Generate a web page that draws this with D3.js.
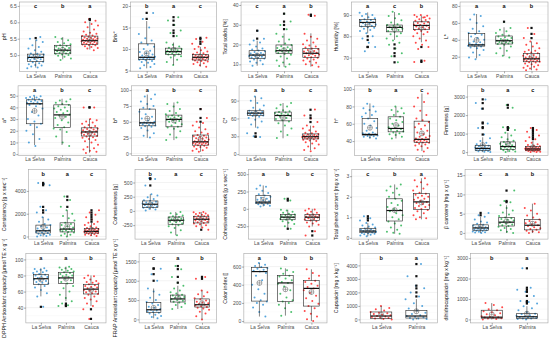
<!DOCTYPE html>
<html><head><meta charset="utf-8">
<script src="https://cdn.jsdelivr.net/npm/d3@7"></script>
<style>html,body{margin:0;padding:0;background:#fff;} svg{display:block;}</style>
</head><body><svg id="c" width="550" height="338"></svg>
<script>
const groups3 = ["La Selva", "Palmira", "Cauca"];
const groups2 = ["La Selva", "Palmira"];

const titles = [
  "pH", "Brix°", "Total solids [%]", "Humidity [%]", "L*",
  "a*", "b*", "C*", "h°", "Firmness [g]",
  "Consistency [g x sec⁻¹]", "Cohesiveness [g]", "Cohesiveness work [g x sec⁻¹]", "Total phenol content [mg x g⁻¹]", "β carotene [mg x g⁻¹]",
  "DPPH Antioxidant capacity [µmol TE x g⁻¹]", "FRAP Antioxidant capacity [µmol TE x g⁻¹]", "Color index []", "Capsaicin [mg x kg⁻¹]", "dihidrocapsaicin [mg x kg⁻¹]"
];

const letters = [
  ["c","b","a"], ["b","a","c"], ["c","a","b"], ["a","c","b"], ["a","a","b"],
  ["a","b","c"], ["a","b","c"], ["a","b","c"], ["b","a","c"], ["b","a","c"],
  ["b","a","c"], ["b","a","c"], ["a","b","c"], ["c","b","a"], ["c","a","b"],
  ["a","a","b"], ["c","a","b"], ["a","b","b"], ["b","a"], ["b","a"]
];

const yTicks = [
  [5.0,5.5,6.0,6.5], [5,10,15,20], [10,20,30,40], [70,80,90], [20,40,60,80],
  [0,10,20,30,40,50], [0,25,50,75,100], [0,30,60,90], [40,60,80,100], [0,1000,2000,3000],
  [0,2000,4000], [-250,0,250,500], [-250,0,250,500], [0,1,2,3], [0,5,10,15],
  [40,60,80,100], [0,500,1000,1500], [0,200,400,600], [0,1000,2000,3000,4000], [0,1000,2000,3000]
];

const yDomains = [
  [4.50,6.62], [4.77,20.93], [6.4,41.5], [63.5,96.1], [2.5,84.7],
  [-1,58.5], [-3,106.8], [-2,115], [23.6,103.8], [-173,3584],
  [-228,5870], [-495,727], [-436,566], [-0.06,3.32], [-1.6,16.45],
  [21,107.5], [-90,1707], [-20,745], [-260,4890], [-170,3230]
];

// [whisker low, Q1, median, Q3, whisker high, mean] per group
const boxStats = [
  [[4.62,4.8,4.93,5.03,5.45,4.95],[4.87,5.04,5.15,5.3,5.55,5.16],[5.17,5.33,5.44,5.58,6.02,5.47]],
  [[5.5,7.6,8.07,11.2,16.5,9.0],[6.3,8.77,9.4,10.2,11.5,9.8],[5.9,7.44,8.07,8.77,10.5,8.2]],
  [[9.3,13,14.7,16.9,22,14.5],[8.8,15.6,16.9,19.8,25.7,17.2],[8.8,13.5,15.6,18.1,25.7,16.3]],
  [[81.4,84.6,86.5,87.9,91.2,85.5],[78.3,82.1,84.2,85.3,91.4,83.5],[77.2,83.1,85.1,86.8,89.7,84]],
  [[18,32.5,34,47.5,70.5,39.8],[20.8,35,38.9,44.5,54.8,38],[4,14,17.5,24,38,19.5]],
  [[7.8,26,43.1,46.5,49.4,37],[7.8,22.7,33.6,42.2,47.4,32],[1.2,15.5,19,22.5,30,18]],
  [[24.6,43.6,48.3,70,93,55],[21,42,53.7,60.5,80.5,52],[2.5,13,18.3,29,48,23]],
  [[44.6,65,69,73,97,68],[26.6,56,65,70.8,86,61],[6.8,25.5,29.4,34,48,30]],
  [[43,46.9,47.7,66.2,83.5,55.4],[43,50.7,54.6,68,79.6,58.5],[28.5,38.5,42,63,95,48.9]],
  [[0,100,200,350,800,380],[0,150,300,550,1050,450],[0,100,170,300,600,260]],
  [[0,300,500,1000,1700,850],[0,400,650,1200,2300,900],[50,300,450,700,1200,600]],
  [[25,60,118,176,294,110],[-428,-234,-164,-106,-18,-150],[-292,-211,-146,-93,-18,-140]],
  [[35,74,97,193,338,130],[-287,-157,-120,-81,-13,-110],[-254,-167,-120,-81,0,-125]],
  [[0.08,0.25,0.33,0.45,0.72,0.37],[0.2,0.82,1.33,1.9,2.6,1.35],[0.9,1.38,1.75,2.15,2.9,1.72]],
  [[0,0.7,1.3,2.1,4.2,1.6],[0,1.8,2.8,4.0,7.2,3.0],[0,0.8,2.0,3.5,7.6,2.4]],
  [[54,69,76,81,89,75],[48,70,77,84,91,76],[42,57,63,69,80,62]],
  [[30,180,250,440,800,300],[270,450,530,630,870,570],[0,320,380,530,750,420]],
  [[50,220,545,590,640,420],[60,215,420,500,580,350],[0,165,360,445,570,320]],
  [[0,80,250,550,1000,330],[0,100,250,650,1500,600]],
  [[0,60,110,450,800,250],[0,50,130,280,650,280]]
];

const outliers = [
  [[5.52],[],[6.07,6.1]],
  [[17,18.4],[13,13.7,14.3,15.6,16.6,17.4],[11.2,11.7,12.3,12.6]],
  [[23,27],[27.8,29.9,31.6,35.6],[34.5,35.1]],
  [[80,78.3,75,75],[76.2,74.3,72.1,70.7,67.8],[75,68.6,68]],
  [[],[61.4],[42,47,54]],
  [[],[],[40,40]],
  [[],[],[50,56,70]],
  [[35,29.4,29.4],[],[54,60.6,65,74.7]],
  [[],[],[]],
  [[950,1300,1350,1550,1600,2350,2650,2850],[1200,1300,1350,2400,2550],[700,800,900,1000,1100,1200,1300]],
  [[2100,2300,2600,4500,4600,4700],[2600,3200,3500],[1300,1500,1700,1900,2100,2300]],
  [[448,560,575],[],[-330]],
  [[],[120,145,-287],[-322,-384]],
  [[0.85,0.95,1.05],[],[]],
  [[4.6,5.2],[8.0,8.3,11],[]],
  [[41],[42,43,45],[38,26]],
  [[1000,1170,1310,1320],[950,1100,1300,1380],[1050,1100]],
  [[],[],[]],
  [[],[1700,2000,2300,2500,3200,4100]],
  [[],[780,850,900,1150,1350,1450,1550,2500]]
];

const points = [
  [[4.6,4.62,4.65,4.68,4.7,4.72,4.75,4.78,4.8,4.82,4.85,4.87,4.88,4.9,4.92,4.93,4.94,4.95,4.97,4.98,5.0,5.02,5.04,5.05,5.1,5.15,5.2,5.25,5.3,5.4,5.45,5.5,5.55],
   [4.85,4.9,4.95,4.98,5.0,5.02,5.04,5.05,5.07,5.08,5.1,5.12,5.13,5.15,5.16,5.18,5.2,5.22,5.24,5.26,5.28,5.3,5.33,5.36,5.4,5.45,5.5,5.55],
   [5.15,5.2,5.22,5.25,5.27,5.3,5.31,5.32,5.33,5.35,5.36,5.37,5.38,5.4,5.41,5.42,5.43,5.44,5.45,5.46,5.47,5.48,5.5,5.51,5.52,5.54,5.55,5.57,5.58,5.6,5.62,5.65,5.68,5.72,5.78,5.85,5.9,5.95,6.0,6.05,6.1]],
  [[5.5,5.8,6.2,6.5,6.8,7.0,7.2,7.4,7.5,7.6,7.7,7.8,7.9,8.0,8.0,8.1,8.2,8.3,8.5,8.7,9.0,9.3,9.6,10,10.5,11,11.5,12,12.5,13.5,15,17,18.4],
   [6.3,7,7.5,8,8.3,8.5,8.7,8.8,9,9.1,9.2,9.3,9.4,9.5,9.6,9.7,9.8,10,10.1,10.3,10.6,11,11.5,13,13.7,14.3,15.6,16.6,17.4],
   [5.9,6.2,6.5,6.7,6.9,7.1,7.2,7.3,7.4,7.5,7.6,7.7,7.8,7.9,8.0,8.0,8.1,8.2,8.3,8.4,8.5,8.6,8.7,8.8,9,9.2,9.4,9.7,10,10.3,10.5,11.2,11.7,12.3,12.6]],
  [[9.3,10,10.8,11.5,12,12.5,13,13.2,13.5,13.8,14,14.2,14.5,14.7,15,15.2,15.5,15.8,16.2,16.6,17,17.5,18,19,20,21,22,23,27],
   [8.8,9.2,10,11,12,13,14,14.8,15.3,15.8,16.2,16.5,16.8,17,17.3,17.6,18,18.3,18.7,19.2,19.8,20.5,21.5,22.5,24,25.5,27.8,29.9,31.6,35.6],
   [8.8,9.5,10,10.8,11.5,12,12.5,13,13.3,13.6,14,14.3,14.6,15,15.3,15.6,15.9,16.2,16.5,16.8,17.2,17.6,18,18.5,19,19.5,20.2,21,22,23,24,25.5,34.5,35.1]],
  [[73,75,77,79,80,81.5,82.5,83,83.5,84,84.3,84.6,85,85.3,85.6,86,86.3,86.6,87,87.3,87.6,88,88.5,89,89.5,90,90.5,91],
   [67.8,70.7,72.1,74.3,76,77,78,79,80,81,81.5,82,82.5,83,83.3,83.6,84,84.3,84.6,85,85.3,85.7,86.5,87.5,88.5,89.5,90.5,91.5],
   [68,68.6,74,75,76,77,78,79,80,81,81.5,82,82.5,83,83.3,83.6,84,84.3,84.6,85,85.3,85.6,86,86.3,86.6,87,87.3,87.6,88,88.4,88.8,89.2,89.6,90,90,89]],
  [[17,19,22,25,28,30,31,32,32.5,33,33.5,34,34.5,35,36,37,38,40,42,44,46,47,48,50,53,56,60,64,68,70],
   [19,21,24,27,30,32,34,35,35.5,36,36.5,37,37.5,38,38.5,39,40,41,42,43,44,45,46,48,50,52,54,61],
   [4,5,6,7,8,9,10,11,12,13,13.5,14,14.5,15,15.5,16,16.5,17,17.5,18,18.5,19,19.5,20,21,22,23,24,25,26,27,28,30,32,34,36,38,42,47,54]],
  [[7,10,13,17,20,23,25,26,28,30,33,36,39,41,42,43,43.5,44,44.5,45,45.5,46,46.5,47,47.5,48,48.5,49,49.5,50],
   [7,10,15,19,21,22,23,25,27,29,31,32,33,34,35,36,37,38,39,40,41,42,43,44,45,46,47],
   [1,2,3,4,5,6,8,10,11,12,13,14,14.5,15,15.5,16,16.5,17,17.5,18,18.5,19,19.5,20,20.5,21,21.5,22,22.5,23,24,25,26,27,28,29,30,40,40]],
  [[25,28,32,36,40,42,43,44,45,46,47,47.5,48,48.5,49,50,52,55,58,62,66,70,72,75,78,82,86,90,93],
   [21,25,30,35,39,41,42,44,46,48,50,51,52,53,54,55,56,57,58,59,60,62,64,67,70,74,78,80.5],
   [2.5,4,5,7,9,10,11,12,13,14,14.5,15,15.5,16,16.5,17,17.5,18,18.5,19,20,21,22,23,24,25,26,27,28,29,31,33,35,38,41,44,48,50,56,70]],
  [[29,30,35,45,50,55,58,61,63,64,65,66,67,67.5,68,68.5,69,70,71,72,73,75,78,82,86,90,94,97],
   [27,32,38,43,48,52,55,57,59,61,63,64,65,66,67,68,69,70,71,72,74,77,80,83,86],
   [5,7,10,13,16,18,20,22,23,24,25,26,26.5,27,27.5,28,28.5,29,29.5,30,30.5,31,31.5,32,33,34,35,36,38,40,43,46,48,54,60,65,75]],
  [[43,44,45,45.5,46,46.5,47,47.5,48,48.5,49,50,52,55,58,60,63,66,68,70,72,74,76,78,80,83],
   [43,45,47,48,49,50,51,52,53,54,55,56,58,60,62,64,66,68,70,72,74,76,78,80],
   [28,30,32,34,35,36,37,38,38.5,39,39.5,40,40.5,41,41.5,42,42.5,43,44,45,46,48,50,52,54,56,58,60,62,64,66,70,75,80,85,90,95]],
  [[0,20,40,60,80,100,110,130,150,170,190,200,220,250,280,310,340,380,430,500,600,750,950,1300,1550,2350,2650,2850],
   [0,30,60,100,130,160,190,220,250,280,300,330,370,410,450,500,550,620,700,800,900,1050,1200,1300,1350,2400,2550],
   [0,10,25,40,55,70,85,100,110,120,130,140,150,160,170,180,190,200,215,230,250,270,290,310,340,380,430,500,600,700,800,900,1000,1100,1200,1300]],
  [[0,50,100,150,200,250,300,350,400,450,500,550,600,700,800,900,1000,1100,1300,1500,1700,2100,2300,2600,4500,4600,4700],
   [0,80,150,250,350,400,450,500,550,600,650,700,800,900,1000,1100,1200,1400,1600,1800,2000,2300,2600,3200,3500],
   [50,100,150,200,250,280,300,330,360,390,420,450,480,510,540,570,600,630,660,700,750,800,900,1000,1100,1200,1300,1500,1700,1900,2100,2300]],
  [[10,25,40,55,60,70,80,90,100,110,120,130,140,150,160,175,190,210,240,270,294,448,560,575],
   [-428,-380,-340,-300,-270,-250,-234,-220,-200,-190,-180,-170,-164,-155,-145,-135,-125,-115,-106,-95,-80,-60,-40,-18],
   [-330,-292,-270,-250,-235,-220,-211,-200,-190,-180,-170,-160,-150,-146,-140,-130,-120,-110,-100,-93,-85,-75,-65,-55,-45,-35,-25,-18]],
  [[35,45,55,65,74,80,88,95,100,110,120,130,145,160,175,193,210,230,260,290,320,338],
   [-287,-250,-220,-200,-180,-165,-157,-145,-135,-125,-120,-112,-105,-95,-88,-81,-70,-55,-40,-25,-13,120,145],
   [-384,-322,-254,-230,-210,-195,-180,-167,-155,-145,-135,-125,-120,-115,-105,-95,-88,-81,-70,-55,-40,-25,-10,0]],
  [[0.08,0.12,0.15,0.18,0.2,0.22,0.24,0.26,0.28,0.3,0.32,0.33,0.35,0.37,0.4,0.42,0.45,0.5,0.55,0.6,0.65,0.72,0.85,0.95,1.05],
   [0.2,0.25,0.3,0.4,0.5,0.6,0.7,0.8,0.9,1.0,1.1,1.2,1.3,1.35,1.4,1.5,1.6,1.7,1.8,1.9,2.0,2.1,2.2,2.3,2.4,2.5,2.6],
   [0.9,0.95,1.0,1.1,1.2,1.3,1.35,1.4,1.45,1.5,1.55,1.6,1.65,1.7,1.75,1.8,1.85,1.9,1.95,2.0,2.05,2.1,2.15,2.2,2.3,2.4,2.5,2.6,2.7,2.8,2.9]],
  [[0,0.1,0.2,0.3,0.4,0.5,0.6,0.7,0.8,0.9,1.0,1.1,1.2,1.3,1.4,1.5,1.7,1.9,2.1,2.4,2.7,3.0,3.5,4.2,4.6,5.2],
   [0,0.3,0.7,1.0,1.3,1.6,1.8,2.0,2.2,2.4,2.6,2.8,3.0,3.2,3.4,3.6,3.8,4.0,4.4,4.8,5.3,5.8,6.5,7.2,8.0,8.3,11],
   [0,0.2,0.4,0.6,0.8,1.0,1.2,1.5,1.8,2.0,2.2,2.5,2.8,3.1,3.5,4.0,4.5,5.0,5.8,6.5,7.6]],
  [[41,54,58,62,65,67,69,70,71,72,73,74,75,76,77,78,79,80,81,82,83,84,85,86,87,88,89],
   [42,43,45,48,52,56,60,64,67,70,72,74,76,77,78,79,80,81,82,83,84,85,86,87,88,89,90,91],
   [26,38,42,45,48,50,52,54,56,57,58,59,60,61,62,63,64,65,66,67,68,69,70,71,72,73,75,77,79,80]],
  [[30,60,90,120,150,170,190,210,230,250,270,300,330,370,410,450,500,560,640,720,800,1000,1170,1310],
   [270,320,370,410,440,460,480,500,520,540,560,580,600,620,640,670,700,750,800,870,950,1100,1300,1380],
   [0,80,150,200,250,280,300,320,340,360,380,400,420,440,460,490,520,550,600,650,700,750,1050,1100]],
  [[50,100,150,180,200,215,230,260,300,350,400,450,500,530,545,555,565,575,585,595,605,620,640],
   [60,100,140,180,200,215,230,260,300,340,380,410,420,430,450,470,490,500,520,540,560,580],
   [0,20,50,80,110,140,165,190,220,250,280,310,340,360,375,390,410,430,445,470,500,530,570]],
  [[0,30,60,100,140,180,220,250,300,350,400,450,500,550,650,750,850,1000],
   [0,30,60,100,150,200,250,300,400,500,650,800,1000,1200,1500,1700,2000,2300,2500,3200,4100]],
  [[0,20,40,60,80,100,110,130,160,200,250,300,350,400,450,500,600,700,800],
   [0,20,40,50,70,90,110,130,150,180,210,250,280,350,450,550,650,780,850,900,1150,1350,1450,1550,2500]]
];

const colors3 = ["#2a8fd4", "#22b04b", "#ff1a1a"];
const colors2 = ["#ff1a1a", "#2a8fd4"];

const FONT = "'Liberation Sans', Arial, sans-serif";
const TICK_FS = 5.0, TITLE_FS = 5.3, LETTER_FS = 5.6;
const svg = d3.select("#c");
const cellW = 110.5, rowH = 83.8;
const measure = svg.append("text").attr("font-family", FONT).attr("font-size", TICK_FS);
function textW(s) { measure.text(s); return measure.node().getComputedTextLength(); }

titles.forEach((title, p) => {
  const r = Math.floor(p / 5), c = p % 5;
  const cellX = c * cellW, rowY = r * rowH;
  const ticks = yTicks[p];
  const isDec = ticks.some(t => !Number.isInteger(t));
  const fmt = t => isDec ? t.toFixed(1) : String(t);
  const labW = d3.max(ticks, t => textW(fmt(t)));
  const band = /⁻/.test(title) ? 15 : (/[\[°]/.test(title) ? 12 : 10);
  const x0 = cellX + band + labW + 2.5, x1 = 106 + c * cellW;
  const y0 = rowY + 2, y1 = rowY + 71.5;
  const stats = boxStats[p];
  const n = stats.length;
  const names = n === 3 ? groups3 : groups2;
  const cols = n === 3 ? colors3 : colors2;
  const x = d3.scaleLinear().domain([0.4, n + 0.6]).range([x0, x1]);
  const y = d3.scaleLinear().domain(yDomains[p]).range([y1, y0]);
  const unit = x(2) - x(1);
  const g = svg.append("g");

  // grid
  const step = ticks[1] - ticks[0];
  const minor = [ticks[0] - step / 2].concat(ticks.map(t => t + step / 2))
    .filter(v => v > yDomains[p][0] && v < yDomains[p][1]);
  g.selectAll(".mn").data(minor).enter().append("line")
    .attr("x1", x0).attr("x2", x1).attr("y1", d => y(d)).attr("y2", d => y(d))
    .attr("stroke", "#f2f2f2").attr("stroke-width", 0.35);
  g.selectAll(".mj").data(ticks).enter().append("line")
    .attr("x1", x0).attr("x2", x1).attr("y1", d => y(d)).attr("y2", d => y(d))
    .attr("stroke", "#e6e6e6").attr("stroke-width", 0.5);

  // jittered points
  stats.forEach((s, gi) => {
    const pts = points[p][gi];
    g.selectAll(null).data(pts).enter().append("circle")
      .attr("cx", (d, i) => x(gi + 1) + (((i * 0.6180339 + gi * 0.37 + p * 0.11) % 1) - 0.5) * unit * 0.62)
      .attr("cy", d => y(d))
      .attr("r", 1.0)
      .attr("fill", cols[gi]).attr("fill-opacity", 0.8);
  });

  // boxes
  const bw = unit * 0.6;
  stats.forEach((s, gi) => {
    const cx = x(gi + 1);
    const [lo, q1, med, q3, hi, mean] = s;
    g.append("line").attr("x1", cx).attr("x2", cx).attr("y1", y(lo)).attr("y2", y(q1))
      .attr("stroke", "#222").attr("stroke-width", 0.55);
    g.append("line").attr("x1", cx).attr("x2", cx).attr("y1", y(q3)).attr("y2", y(hi))
      .attr("stroke", "#222").attr("stroke-width", 0.55);
    g.append("rect").attr("x", cx - bw / 2).attr("width", bw)
      .attr("y", y(q3)).attr("height", y(q1) - y(q3))
      .attr("fill", "none").attr("stroke", "#222").attr("stroke-width", 0.6);
    g.append("line").attr("x1", cx - bw / 2).attr("x2", cx + bw / 2).attr("y1", y(med)).attr("y2", y(med))
      .attr("stroke", "#111").attr("stroke-width", 1.2);
    g.selectAll(null).data(outliers[p][gi]).enter().append("rect")
      .attr("x", cx - 1.1).attr("y", d => y(d) - 1.1).attr("width", 2.2).attr("height", 2.2)
      .attr("fill", "#111");
    const my = y(mean);
    g.append("circle").attr("cx", cx).attr("cy", my).attr("r", 2.5)
      .attr("fill", "none").attr("stroke", "#555").attr("stroke-width", 0.5);
    g.append("line").attr("x1", cx - 2.5).attr("x2", cx + 2.5).attr("y1", my).attr("y2", my)
      .attr("stroke", "#555").attr("stroke-width", 0.45);
    g.append("line").attr("x1", cx).attr("x2", cx).attr("y1", my - 2.5).attr("y2", my + 2.5)
      .attr("stroke", "#555").attr("stroke-width", 0.45);
    g.append("text").attr("x", cx).attr("y", y0 + 6.3)
      .attr("text-anchor", "middle").attr("font-family", FONT).attr("font-size", LETTER_FS)
      .attr("font-weight", "bold").attr("fill", "#111").text(letters[p][gi]);
  });

  // border
  g.append("rect").attr("x", x0).attr("y", y0).attr("width", x1 - x0).attr("height", y1 - y0)
    .attr("fill", "none").attr("stroke", "#a6a6a6").attr("stroke-width", 0.6);

  // axes
  const ya = g.append("g").attr("transform", `translate(${x0},0)`)
    .call(d3.axisLeft(y).tickValues(ticks).tickFormat(fmt).tickSize(1.8).tickPadding(0.8));
  const xa = g.append("g").attr("transform", `translate(0,${y1})`)
    .call(d3.axisBottom(x).tickValues(d3.range(1, n + 1)).tickFormat(i => names[i - 1]).tickSize(1.8).tickPadding(0.8));
  [ya, xa].forEach(a => {
    a.select(".domain").remove();
    a.selectAll(".tick line").attr("stroke", "#444").attr("stroke-width", 0.45);
    a.selectAll(".tick text").attr("font-family", FONT).attr("font-size", TICK_FS).attr("fill", "#4d4d4d");
  });

  // y title
  svg.append("text")
    .attr("transform", `translate(${cellX + 6},${(y0 + y1) / 2}) rotate(-90)`)
    .attr("text-anchor", "middle").attr("font-family", FONT).attr("font-size", TITLE_FS)
    .attr("fill", "#111").text(title);
});
measure.remove();
</script></body></html>
